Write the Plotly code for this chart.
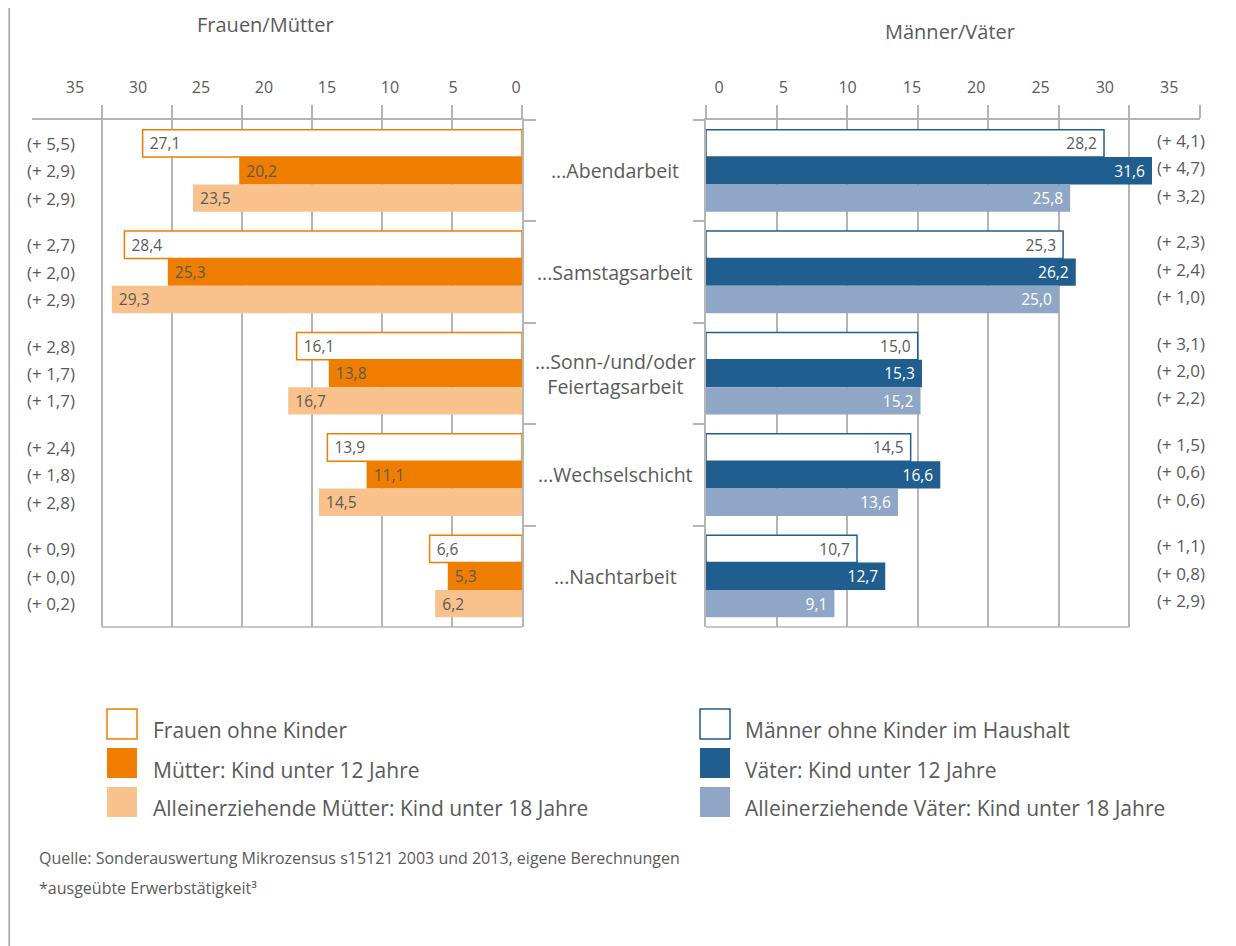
import plotly.graph_objects as go

# page body has an 8px default margin -> compensate
OFF = 8
W, H = 1228, 938

def X(px):
    return (px - OFF) / W

def Y(py):
    return 1 - (py - OFF) / H

# ---------------- data ----------------
categories = ["...Abendarbeit", "...Samstagsarbeit", "...Sonn-/und/oder<br>Feiertagsarbeit",
              "...Wechselschicht", "...Nachtarbeit"]

women_names = ["Frauen ohne Kinder", "Mütter: Kind unter 12 Jahre",
               "Alleinerziehende Mütter: Kind unter 18 Jahre"]
women_no_children = [27.1, 28.4, 16.1, 13.9, 6.6]
mothers_u12 = [20.2, 25.3, 13.8, 11.1, 5.3]
single_mothers_u18 = [23.5, 29.3, 16.7, 14.5, 6.2]
women_change_no_children = [5.5, 2.7, 2.8, 2.4, 0.9]
women_change_mothers = [2.9, 2.0, 1.7, 1.8, 0.0]
women_change_single = [2.9, 2.9, 1.7, 2.8, 0.2]

men_names = ["Männer ohne Kinder im Haushalt", "Väter: Kind unter 12 Jahre",
             "Alleinerziehende Väter: Kind unter 18 Jahre"]
men_no_children = [28.2, 25.3, 15.0, 14.5, 10.7]
fathers_u12 = [31.6, 26.2, 15.3, 16.6, 12.7]
single_fathers_u18 = [25.8, 25.0, 15.2, 13.6, 9.1]
men_change_no_children = [4.1, 2.3, 3.1, 1.5, 1.1]
men_change_fathers = [4.7, 2.4, 2.0, 0.6, 0.8]
men_change_single = [3.2, 1.0, 2.2, 0.6, 2.9]

grid_ticks = [0, 5, 10, 15, 20, 25, 30]
label_ticks = [0, 5, 10, 15, 20, 25, 30, 35]

title_left = "Frauen/Mütter"
title_right = "Männer/Väter"
source_text = "Quelle: Sonderauswertung Mikrozensus s15121 2003 und 2013, eigene Berechnungen"
note_text = "*ausgeübte Erwerbstätigkeit³"

# ---------------- styles ----------------
FONT = "Open Sans"
TXT = "#5a5a5a"
GRID = "#b5b5b5"
ORANGE = "#ef7d00"
ORANGE_L = "#f9c28c"
BLUE = "#1f5e8e"
BLUE_L = "#8fa6c6"
NB = "\u00a0"

women_styles = [
    dict(fill="white", line=ORANGE, lw=1.5, tc=TXT),
    dict(fill=ORANGE, line=ORANGE, lw=0, tc=TXT),
    dict(fill=ORANGE_L, line=ORANGE_L, lw=0, tc=TXT),
]
men_styles = [
    dict(fill="white", line=BLUE, lw=1.5, tc=TXT),
    dict(fill=BLUE, line=BLUE, lw=0, tc="white"),
    dict(fill=BLUE_L, line=BLUE_L, lw=0, tc="white"),
]

fig = go.Figure()

women_series = [women_no_children, mothers_u12, single_mothers_u18]
men_series = [men_no_children, fathers_u12, single_fathers_u18]

for name, vals, st in zip(women_names, women_series, women_styles):
    fig.add_trace(go.Bar(
        orientation="h", y=categories, x=vals, name=name, xaxis="x", yaxis="y",
        marker=dict(color=st["fill"], line=dict(color=st["line"], width=st["lw"])),
        texttemplate=NB + "%{x:.1f}", textposition="inside", insidetextanchor="end",
        textangle=0, textfont=dict(color=st["tc"], size=16, family=FONT),
        showlegend=False, hoverinfo="skip"))

for name, vals, st in zip(men_names, men_series, men_styles):
    fig.add_trace(go.Bar(
        orientation="h", y=categories, x=vals, name=name, xaxis="x2", yaxis="y2",
        marker=dict(color=st["fill"], line=dict(color=st["line"], width=st["lw"])),
        texttemplate="%{x:.1f}" + NB, textposition="inside", insidetextanchor="end",
        textangle=0, textfont=dict(color=st["tc"], size=16, family=FONT),
        showlegend=False, hoverinfo="skip"))

# invisible carriers so the tick-label axes get drawn
fig.add_trace(go.Scatter(x=[label_ticks[0], label_ticks[-1]], y=[categories[0]] * 2,
                         xaxis="x3", yaxis="y", mode="markers", marker=dict(opacity=0),
                         showlegend=False, hoverinfo="skip"))
fig.add_trace(go.Scatter(x=[label_ticks[0], label_ticks[-1]], y=[categories[0]] * 2,
                         xaxis="x4", yaxis="y2", mode="markers", marker=dict(opacity=0),
                         showlegend=False, hoverinfo="skip"))

ydom = [Y(627), Y(120)]

common_x = dict(side="top", showline=True, linecolor=GRID, linewidth=1.5,
                ticks="outside", ticklen=13, tickcolor=GRID, tickwidth=1.5,
                tickvals=grid_ticks, showticklabels=False, showgrid=True,
                gridcolor=GRID, gridwidth=1.5, zeroline=False, fixedrange=True)
common_y = dict(domain=ydom, type="category", categoryorder="array", categoryarray=categories,
                autorange="reversed", showline=True, linecolor=GRID, linewidth=1.5,
                ticks="outside", tickson="boundaries", tickcolor=GRID, tickwidth=1.5,
                showticklabels=False, showgrid=False, zeroline=False)

label_x = dict(side="top", showline=False, showgrid=False, zeroline=False,
               tickvals=label_ticks, ticks="outside", ticklen=20,
               tickcolor="rgba(0,0,0,0)", tickfont=dict(size=16, color=TXT, family=FONT))

fig.update_layout(
    width=W, height=H, margin=dict(l=0, r=0, t=0, b=0),
    paper_bgcolor="white", plot_bgcolor="rgba(0,0,0,0)",
    separators=",.", barmode="group", bargap=0.19, bargroupgap=0,
    font=dict(family=FONT, color=TXT),
    xaxis=dict(domain=[X(32), X(522)], range=[35, 0], anchor="y", **common_x),
    yaxis=dict(anchor="x", side="right", ticklen=12, **common_y),
    xaxis2=dict(domain=[X(706), X(1200)], range=[0, 35], anchor="y2",
                minor=dict(tickvals=[35], ticks="outside", ticklen=13,
                           tickcolor=GRID, tickwidth=1.5, showgrid=False),
                **common_x),
    yaxis2=dict(anchor="x2", side="left", ticklen=11, **common_y),
    xaxis3=dict(overlaying="x", anchor="y", range=[38.41, -0.476], **label_x),
    xaxis4=dict(overlaying="x2", anchor="y2", range=[-1.011, 37.40], **label_x),
)

shapes = []
# bottom baselines (0..30)
shapes.append(dict(type="line", xref="x", yref="y domain", x0=30, x1=0, y0=0, y1=0,
                   line=dict(color=GRID, width=1.5)))
shapes.append(dict(type="line", xref="x2", yref="y2 domain", x0=0, x1=30, y0=0, y1=0,
                   line=dict(color=GRID, width=1.5)))
# left frame line
shapes.append(dict(type="line", xref="paper", yref="paper", x0=0.001, x1=0.001, y0=0, y1=1,
                   line=dict(color="#a0a0a0", width=1.5)))

annotations = []

def fmt_change(v):
    return "(+ " + f"{v:.1f}".replace(".", ",") + ")"

offsets = [-0.27, 0.0, 0.27]
for j, ch in enumerate([women_change_no_children, women_change_mothers, women_change_single]):
    for i, v in enumerate(ch):
        annotations.append(dict(xref="paper", yref="y", x=X(25), y=i + offsets[j],
                                xanchor="left", yanchor="middle", showarrow=False,
                                text=fmt_change(v), font=dict(size=17, color=TXT)))
for j, ch in enumerate([men_change_no_children, men_change_fathers, men_change_single]):
    for i, v in enumerate(ch):
        annotations.append(dict(xref="paper", yref="y2", x=X(1155), y=i + offsets[j],
                                xanchor="left", yanchor="middle", showarrow=False, yshift=3,
                                text=fmt_change(v), font=dict(size=17, color=TXT)))

for cat in categories:
    annotations.append(dict(xref="paper", yref="y", x=X(615), y=cat, xanchor="center",
                            yanchor="middle", showarrow=False, align="center",
                            text=cat, font=dict(size=19.5, color=TXT)))

annotations.append(dict(xref="paper", yref="paper", x=X(265), y=Y(25), text=title_left,
                        showarrow=False, xanchor="center", yanchor="middle",
                        font=dict(size=20, color=TXT)))
annotations.append(dict(xref="paper", yref="paper", x=X(950), y=Y(32), text=title_right,
                        showarrow=False, xanchor="center", yanchor="middle",
                        font=dict(size=20, color=TXT)))

# custom legend
row_tops = [709, 748, 787]
row_text = [730, 770, 808]
for names, styles, sx, tx in [(women_names, women_styles, 107, 151),
                              (men_names, men_styles, 700, 743)]:
    for k in range(3):
        st = styles[k]
        shapes.append(dict(type="rect", xref="paper", yref="paper",
                           x0=X(sx), x1=X(sx + 30), y0=Y(row_tops[k] + 30), y1=Y(row_tops[k]),
                           fillcolor=st["fill"],
                           line=dict(color=st["line"], width=1.5 if st["lw"] else 0)))
        annotations.append(dict(xref="paper", yref="paper", x=X(tx), y=Y(row_text[k]),
                                text=names[k], showarrow=False, xanchor="left",
                                yanchor="middle", font=dict(size=21, color=TXT)))

annotations.append(dict(xref="paper", yref="paper", x=X(37), y=Y(858), text=source_text,
                        showarrow=False, xanchor="left", yanchor="middle",
                        font=dict(size=16, color=TXT)))
annotations.append(dict(xref="paper", yref="paper", x=X(37), y=Y(888), text=note_text,
                        showarrow=False, xanchor="left", yanchor="middle",
                        font=dict(size=16, color=TXT)))

fig.update_layout(shapes=shapes, annotations=annotations)

fig.write_html("out.html")
